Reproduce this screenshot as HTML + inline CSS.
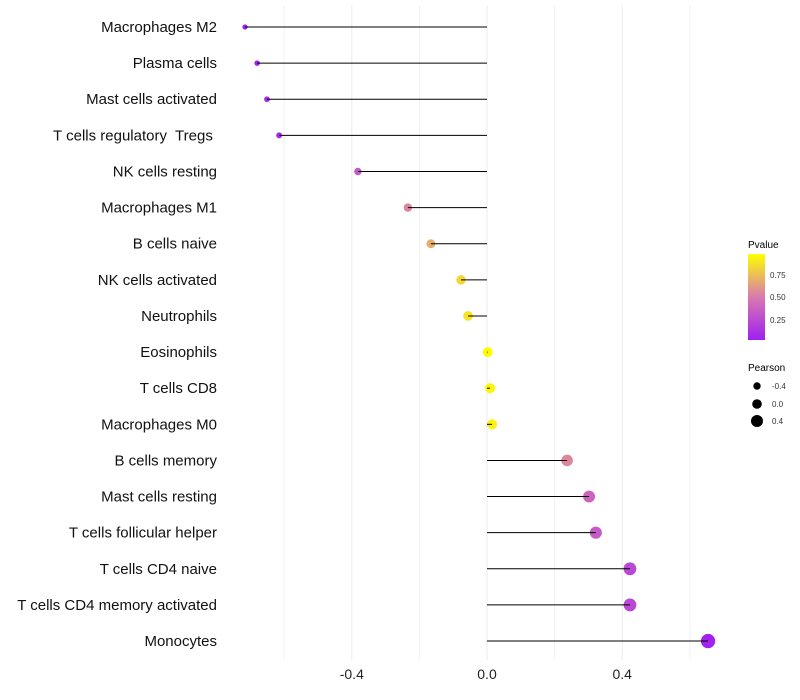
<!DOCTYPE html>
<html><head><meta charset="utf-8"><style>
body{margin:0;background:#fff;font-family:"Liberation Sans",sans-serif}
svg{display:block}
#ylab text{white-space:pre}
</style></head><body>
<svg id="chart" width="800" height="700">
<defs><linearGradient id="pg" x1="0" y1="1" x2="0" y2="0">
<stop offset="0" stop-color="#A020F0"/><stop offset="0.5" stop-color="#D87AB0"/><stop offset="1" stop-color="#FFFF00"/></linearGradient></defs>
<g id="grid"></g>
<g id="marks"></g>
<g id="ylab"></g>
<g id="xlab"></g>
<g>
<text x="748" y="248" font-size="10">Pvalue</text>
<rect x="748" y="254" width="17" height="86" fill="url(#pg)"/>
<g font-size="8" fill="#333">
<text x="770" y="278">0.75</text>
<text x="770" y="300">0.50</text>
<text x="770" y="323">0.25</text></g>
</g>
<g>
<text x="748" y="371" font-size="10">Pearson</text>
<circle cx="757" cy="386" r="3.7"/>
<circle cx="757" cy="404" r="4.8"/>
<circle cx="757" cy="421" r="6"/>
<g font-size="8" fill="#333">
<text x="772" y="389">-0.4</text>
<text x="772" y="407">0.0</text>
<text x="772" y="424">0.4</text></g>
</g>
</svg>
<script>
const categories=["Macrophages M2","Plasma cells","Mast cells activated","T cells regulatory  Tregs ","NK cells resting","Macrophages M1","B cells naive","NK cells activated","Neutrophils","Eosinophils","T cells CD8","Macrophages M0","B cells memory","Mast cells resting","T cells follicular helper","T cells CD4 naive","T cells CD4 memory activated","Monocytes"];
const pearson=[-0.716,-0.68,-0.651,-0.615,-0.382,-0.234,-0.166,-0.077,-0.056,0.002,0.009,0.015,0.237,0.302,0.322,0.423,0.423,0.654];
const pvalues=[0.02,0.03,0.05,0.06,0.33,0.55,0.7,0.85,0.9,0.99,0.97,0.95,0.55,0.38,0.33,0.22,0.22,0.01];
const xTicks=[-0.4,0.0,0.4];
const xMinor=[-0.6,-0.2,0.2,0.6];
const NS="http://www.w3.org/2000/svg";
const x=v=>487+v*338;
const y=i=>27+i*36.12;
const r=v=>5+3.3*v;
function col(p){
 const a=[160,32,240],m=[216,122,176],b=[255,255,0];let c;
 if(p<0.5){const t=p/0.5;c=a.map((v,k)=>v+(m[k]-v)*t);}else{const t=(p-0.5)/0.5;c=m.map((v,k)=>v+(b[k]-v)*t);}
 return "rgb("+c.map(Math.round).join(",")+")";}
function mk(t,at,par){const e=document.createElementNS(NS,t);for(const k in at)e.setAttribute(k,at[k]);document.getElementById(par).appendChild(e);return e;}
xMinor.forEach(v=>{const e=mk("line",{x1:x(v),x2:x(v),y1:5,y2:660,stroke:"#f2f2f2","stroke-width":1},"grid");

});
xTicks.forEach(v=>{const e=mk("line",{x1:x(v),x2:x(v),y1:5,y2:660,stroke:"#ebebeb","stroke-width":1},"grid");


const t=mk("text",{x:x(v),y:679,"font-size":14,"text-anchor":"middle",fill:"#222"},"xlab");t.textContent=v.toFixed(1);

});
categories.forEach((c,i)=>{
 const t=mk("text",{x:217,y:y(i)+5,"font-size":15,"text-anchor":"end",fill:"#111"},"ylab");t.textContent=c;
 
 
 const d=mk("circle",{cx:x(pearson[i]),cy:y(i),r:r(pearson[i]),fill:col(pvalues[i])},"marks");
 
 
 const l=mk("line",{x1:x(0),x2:x(pearson[i]),y1:y(i),y2:y(i),stroke:"#000","stroke-width":1},"marks");
 
 
});
</script>
</body></html>
